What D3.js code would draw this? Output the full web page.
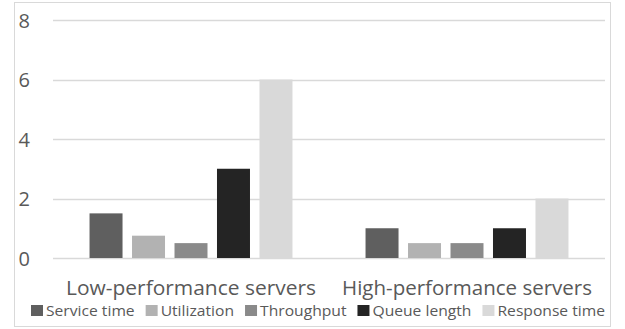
<!DOCTYPE html>
<html>
<head>
<meta charset="utf-8">
<script src="https://cdn.jsdelivr.net/npm/d3@7/dist/d3.min.js"></script>
<style>
  html, body { margin: 0; padding: 0; background: #fff; }
  svg { display: block; }
  text { font-family: "Open Sans", "Noto Sans", "Liberation Sans", sans-serif; fill: #595959; }
</style>
</head>
<body>
<svg id="chart" width="625" height="329"></svg>
<script>
// Server groups and the metrics measured for each
const categories = ["Low-performance servers", "High-performance servers"];
const seriesNames = ["Service time", "Utilization", "Throughput", "Queue length", "Response time"];
const serviceTime = [1.5, 1];
const utilization = [0.75, 0.5];
const throughput = [0.5, 0.5];
const queueLength = [3, 1];
const responseTime = [6, 2];
const yTicks = [0, 2, 4, 6, 8];
const seriesColors = ["#5f5f5f", "#b2b2b2", "#8a8a8a", "#242424", "#d9d9d9"];

const seriesValues = [serviceTime, utilization, throughput, queueLength, responseTime];
const rows = categories.map((c, i) => ({
  category: c,
  values: seriesNames.map((s, k) => ({ series: s, value: seriesValues[k][i] }))
}));

const svg = d3.select("#chart");
const plot = { left: 53, right: 605, top: 20, bottom: 258 };

// Chart frame
svg.append("rect")
  .attr("x", 14.5).attr("y", 2.5)
  .attr("width", 596).attr("height", 324)
  .attr("fill", "#fff").attr("stroke", "#d9d9d9").attr("stroke-width", 1);

const y = d3.scaleLinear().domain([0, 8]).range([plot.bottom, plot.top]);
const x0 = d3.scaleBand().domain(categories).range([plot.left, plot.right]).padding(0);
const x1 = d3.scaleBand().domain(seriesNames)
  .range([0, x0.bandwidth()])
  .paddingInner(0.2235).paddingOuter(0.86);
const color = d3.scaleOrdinal().domain(seriesNames).range(seriesColors);

// Horizontal gridlines
svg.append("g")
  .selectAll("line")
  .data(yTicks)
  .join("line")
  .attr("x1", plot.left).attr("x2", plot.right)
  .attr("y1", d => Math.round(y(d)) + 0.5)
  .attr("y2", d => Math.round(y(d)) + 0.5)
  .attr("stroke", "#d9d9d9").attr("stroke-width", 1.5);

// Y axis labels
const yAxis = d3.axisLeft(y).tickValues(yTicks).tickSize(0).tickPadding(0);
const yg = svg.append("g")
  .attr("transform", `translate(30,0)`)
  .call(yAxis);
yg.select(".domain").remove();
yg.selectAll("text")
  .attr("font-size", 20)
  .attr("text-anchor", "end")
  .attr("dy", "0.35em")
  .attr("fill", "#595959")
  .style("font-family", "'Open Sans', 'Noto Sans', sans-serif");

// Bars
const groups = svg.append("g")
  .selectAll("g")
  .data(rows)
  .join("g")
  .attr("transform", d => `translate(${x0(d.category)},0)`);

groups.selectAll("rect")
  .data(d => d.values)
  .join("rect")
  .attr("x", d => x1(d.series))
  .attr("width", x1.bandwidth())
  .attr("y", d => y(d.value))
  .attr("height", d => y(0) - y(d.value))
  .attr("fill", d => color(d.series));

// Category labels
const xAxis = d3.axisBottom(x0).tickSize(0).tickPadding(0);
const xg = svg.append("g")
  .attr("transform", `translate(0,${plot.bottom})`)
  .call(xAxis);
xg.select(".domain").remove();
xg.selectAll("text")
  .attr("y", 36.5)
  .attr("dy", 0)
  .attr("font-size", 20)
  .attr("fill", "#595959")
  .attr("textLength", 250)
  .attr("lengthAdjust", "spacingAndGlyphs")
  .style("font-family", "'Open Sans', 'Noto Sans', sans-serif");

// Legend
const legend = svg.append("g").attr("class", "legend");
const legendItems = legend.selectAll("g")
  .data(seriesNames)
  .join("g");
legendItems.append("rect")
  .attr("width", 12).attr("height", 11)
  .attr("y", 305)
  .attr("fill", d => color(d));
legendItems.append("text")
  .attr("x", 15)
  .attr("y", 315.5)
  .attr("font-size", 14)
  .text(d => d);

// Lay legend entries out left to right, stretching text to span the frame width
const targetLeft = 31, targetRight = 605, gap = 11, mark = 15;
const n = seriesNames.length;
const widths = [];
legendItems.each(function() { widths.push(d3.select(this).select("text").node().getComputedTextLength()); });
const fixed = n * mark + gap * (n - 1);
const scale = (targetRight - targetLeft - fixed) / d3.sum(widths);
let cx = targetLeft;
legendItems.each(function(d, i) {
  const w = widths[i] * scale;
  const g = d3.select(this);
  g.attr("transform", `translate(${cx},0)`);
  g.select("text").attr("textLength", w).attr("lengthAdjust", "spacingAndGlyphs");
  cx += mark + w + gap;
});
</script>
</body>
</html>
